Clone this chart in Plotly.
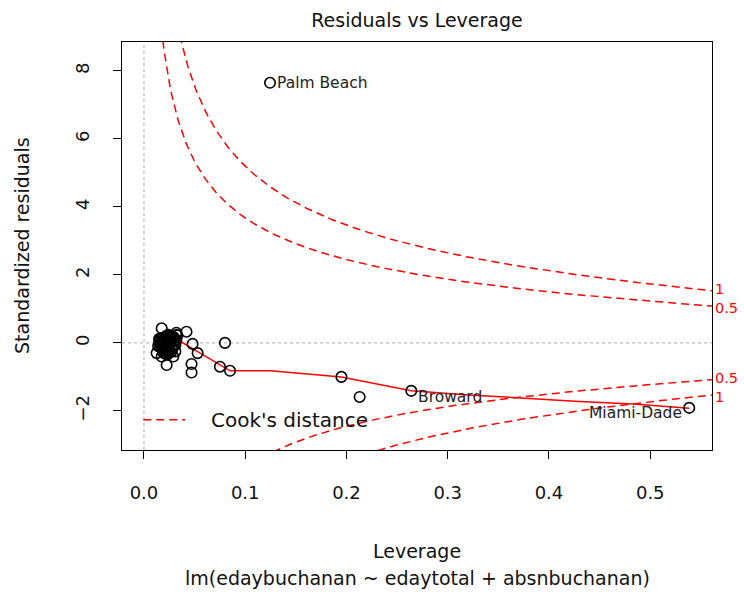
import numpy as np
import plotly.graph_objects as go

# ---- data ----
leverage = [0.1245, 0.264, 0.5385, 0.195, 0.213,
            0.0175, 0.042, 0.032, 0.048, 0.053, 0.047, 0.047, 0.080, 0.075, 0.085, 0.0224,
            0.0125, 0.0175, 0.027, 0.032, 0.024,
            0.015, 0.016, 0.018, 0.019, 0.020, 0.021, 0.022, 0.023, 0.025, 0.026,
            0.028, 0.029, 0.030, 0.031, 0.033, 0.014, 0.016, 0.019, 0.021, 0.024,
            0.026, 0.028, 0.030, 0.017, 0.020, 0.023, 0.027, 0.029, 0.018, 0.022,
            0.025, 0.031, 0.015, 0.019, 0.024, 0.028, 0.032, 0.020, 0.026, 0.030,
            0.016, 0.021, 0.027, 0.023, 0.018, 0.025]
std_resid = [7.65, -1.41, -1.91, -1.00, -1.59,
             0.43, 0.33, 0.30, -0.03, -0.30, -0.62, -0.87, 0.00, -0.70, -0.82, -0.65,
             -0.30, -0.40, -0.26, 0.24, 0.24,
             0.05, -0.10, 0.15, -0.20, 0.10, -0.05, 0.20, -0.35, 0.00, 0.12,
             -0.15, 0.18, 0.08, -0.25, 0.22, -0.10, -0.02, -0.12, 0.10, -0.30,
             0.06, -0.18, 0.14, -0.08, 0.02, -0.22, 0.16, -0.40, 0.04, -0.14,
             0.20, -0.06, 0.12, -0.28, 0.00, -0.16, 0.08, -0.20, 0.18, -0.04,
             0.10, -0.32, 0.14, -0.10, 0.06, -0.24]
county_labels = ["Palm Beach", "Broward", "Miami-Dade"]

smooth_x = [0.0158, 0.032, 0.085, 0.125, 0.195, 0.264, 0.320, 0.368, 0.430, 0.483, 0.5385]
smooth_y = [-0.08, 0.11, -0.82, -0.82, -1.00, -1.41, -1.53, -1.62, -1.72, -1.80, -1.92]

n_coef = 3
cook_levels = [0.5, 1]
x_ticks = [0.0, 0.1, 0.2, 0.3, 0.4, 0.5]
y_ticks = [-2, 0, 2, 4, 6, 8]
x_range = [-0.0217, 0.561]
y_range = [-3.15, 8.85]

FONT = "DejaVu Sans"
RED = "#ff0000"
INK = "#111111"

fig = go.Figure()

# Cook's distance contours
hh = np.linspace(0.0005, x_range[1], 400)
for lev in cook_levels:
    r = np.sqrt(lev * n_coef * (1 - hh) / hh)
    for sgn in (1, -1):
        fig.add_trace(go.Scatter(x=hh, y=sgn * r, mode="lines",
                                 line=dict(color=RED, width=1.5, dash="8px,5px"),
                                 hoverinfo="skip", showlegend=False))
    rr = np.sqrt(lev * n_coef * (1 - x_range[1]) / x_range[1])
    for sgn in (1, -1):
        # nudge apart so the two labels on each side do not touch
        nudge = (2 if lev == 1 else -2) * sgn
        fig.add_annotation(x=1, xref="paper", y=sgn * rr, yref="y", text=str(lev),
                           showarrow=False, xanchor="left", xshift=2, yshift=nudge,
                           borderpad=0,
                           font=dict(family=FONT, size=14.5, color=RED))

# smoother
fig.add_trace(go.Scatter(x=smooth_x, y=smooth_y, mode="lines",
                         line=dict(color=RED, width=1.5),
                         showlegend=False, hoverinfo="skip"))

# points
fig.add_trace(go.Scatter(x=leverage, y=std_resid, mode="markers",
                         marker=dict(symbol="circle-open", size=10.5, color="black",
                                     line=dict(width=1.6, color="black")),
                         showlegend=False))

# point labels
label_pos = [("left", 5, 0), ("left", 5, -6), ("right", -5, -5)]
for i, name in enumerate(county_labels):
    anchor, xs, ys = label_pos[i]
    fig.add_annotation(x=leverage[i], y=std_resid[i], text=name, showarrow=False,
                       xanchor=anchor, xshift=xs, yshift=ys,
                       font=dict(family=FONT, size=15.5, color="#222"))

# reference dotted lines
fig.add_shape(type="line", xref="x", yref="paper", x0=0, x1=0, y0=0, y1=1,
              line=dict(color="#bebebe", width=1.3, dash="dot"), layer="below")
fig.add_shape(type="line", xref="paper", yref="y", x0=0, x1=1, y0=0, y1=0,
              line=dict(color="#bebebe", width=1.3, dash="dot"), layer="below")

# legend (manual)
fig.add_shape(type="line", xref="paper", yref="paper", x0=0.036, x1=0.107, y0=0.074, y1=0.074,
              line=dict(color=RED, width=1.5, dash="8px,5px"))
fig.add_annotation(xref="paper", yref="paper", x=0.148, y=0.074, text="Cook's distance",
                   showarrow=False, xanchor="left", yanchor="middle",
                   font=dict(family=FONT, size=20, color=INK))

# axis titles
fig.add_annotation(xref="paper", yref="paper", x=0.5, y=0, yshift=-101, text="Leverage",
                   showarrow=False, yanchor="middle", font=dict(family=FONT, size=19, color=INK))
fig.add_annotation(xref="paper", yref="paper", x=0.5, y=0, yshift=-128,
                   text="lm(edaybuchanan ~ edaytotal + absnbuchanan)",
                   showarrow=False, yanchor="middle", font=dict(family=FONT, size=19, color=INK))
fig.add_annotation(xref="paper", yref="paper", x=0, xshift=-100, y=0.5,
                   text="Standardized residuals", textangle=-90,
                   showarrow=False, xanchor="center", yanchor="middle",
                   font=dict(family=FONT, size=19, color=INK))

fig.update_layout(
    width=744, height=596,
    margin=dict(l=122, r=32, t=42, b=146),
    paper_bgcolor="white", plot_bgcolor="white",
    font=dict(family=FONT, size=18, color=INK),
    title=dict(text="Residuals vs Leverage", x=0.5, xref="paper", xanchor="center",
               y=1 - 20 / 596, yanchor="middle", font=dict(family=FONT, size=19, color=INK)),
    showlegend=False,
)
fig.update_xaxes(range=x_range, tickvals=x_ticks, tickformat=".1f", automargin=False,
                 showgrid=False, zeroline=False, showline=True, mirror=True,
                 linecolor="black", linewidth=1.3, ticks="outside", ticklen=8,
                 tickcolor="black", tickwidth=1.3, ticklabelstandoff=18,
                 tickfont=dict(family=FONT, size=18, color=INK))
fig.update_yaxes(range=y_range, tickvals=y_ticks, tickangle=-90, automargin=False,
                 showgrid=False, zeroline=False, showline=True, mirror=True,
                 linecolor="black", linewidth=1.3, ticks="outside", ticklen=8,
                 tickcolor="black", tickwidth=1.3, ticklabelstandoff=17,
                 tickfont=dict(family=FONT, size=18, color=INK))

fig.write_html("out.html", config={"displayModeBar": False},
               post_script="document.body.style.margin='0';document.body.style.overflow='hidden';")
